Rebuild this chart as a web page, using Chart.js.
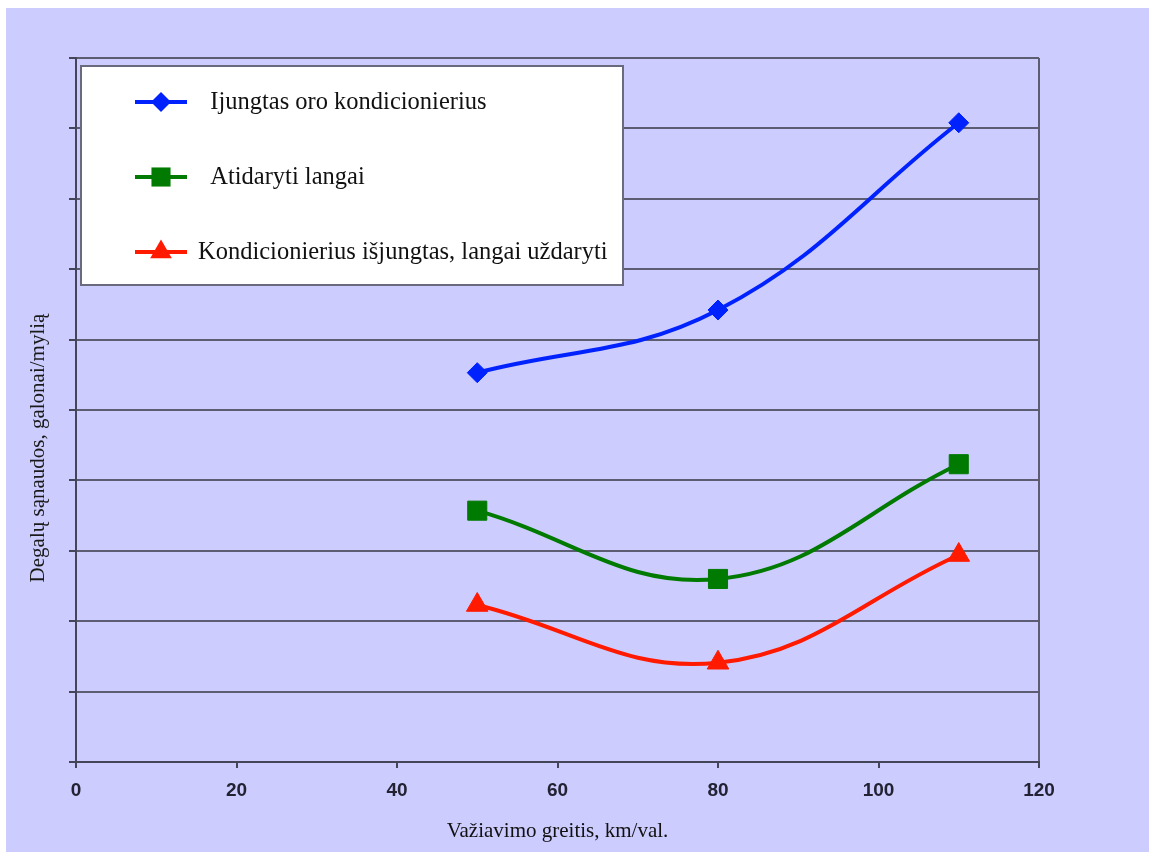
<!DOCTYPE html>
<html>
<head>
<meta charset="utf-8">
<script src="https://cdn.jsdelivr.net/npm/chart.js@4.4.1/dist/chart.umd.min.js"></script>
<style>
  html, body { margin: 0; padding: 0; background: #ffffff; }
  #wrap { position: absolute; left: 6px; top: 8px; width: 1143px; height: 844px; background: #ccccff; }
  canvas { display: block; }
</style>
</head>
<body>
<div id="wrap"><canvas id="c" width="1143" height="844"></canvas></div>
<script>
// Speeds (km/h) and fuel use for each driving mode
const speeds = [50, 80, 110];
const airConditioner = [5.53, 6.42, 9.08];
const openWindows = [3.57, 2.60, 4.23];
const allClosed = [2.23, 1.41, 2.94];

const seriesLabels = [
  '  Ijungtas oro kondicionierius',
  '  Atidaryti langai',
  'Kondicionierius išjungtas, langai uždaryti'
];
const xTicks = [0, 20, 40, 60, 80, 100, 120];
const xTitle = 'Važiavimo greitis, km/val.';
const yTitle = 'Degalų sąnaudos, galonai/mylią';

const GRID = '#5c5c72';
const AXIS = '#45455a';

function points(values) {
  return speeds.map((s, i) => ({ x: s, y: values[i] }));
}

function series(label, values, color, style, radius) {
  return {
    label: label,
    data: points(values),
    borderColor: color,
    backgroundColor: color,
    borderWidth: 4,
    pointStyle: style,
    pointRadius: radius,
    pointHoverRadius: radius,
    pointBorderWidth: 1,
    pointBorderColor: color,
    pointBackgroundColor: color,
    tension: 0.4,
    fill: false
  };
}

function marker(ctx, style, x, y, r, color) {
  ctx.save();
  ctx.fillStyle = color;
  ctx.beginPath();
  if (style === 'rectRot') {
    ctx.moveTo(x, y - r); ctx.lineTo(x + r, y); ctx.lineTo(x, y + r); ctx.lineTo(x - r, y);
  } else if (style === 'rect') {
    const h = r * Math.SQRT1_2;
    ctx.rect(x - h, y - h, 2 * h, 2 * h);
  } else if (style === 'triangle') {
    for (let k = 0; k < 3; k++) {
      const a = -Math.PI / 2 + k * 2 * Math.PI / 3;
      const px = x + r * Math.cos(a), py = y + r * Math.sin(a);
      if (k === 0) ctx.moveTo(px, py); else ctx.lineTo(px, py);
    }
  }
  ctx.closePath();
  ctx.fill();
  ctx.restore();
}

// Boxed legend inside the plot area plus the rotated y-axis caption
const overlay = {
  id: 'overlay',
  afterDraw(chart) {
    const ctx = chart.ctx;
    const area = chart.chartArea;

    // y-axis caption
    ctx.save();
    ctx.translate(32, 440);
    ctx.rotate(-Math.PI / 2);
    ctx.font = '21px "Liberation Serif"';
    ctx.fillStyle = '#1a1a1a';
    ctx.textAlign = 'center';
    ctx.textBaseline = 'middle';
    ctx.fillText(yTitle, 0, 0);
    ctx.restore();

    // legend box
    const bx = area.left + 5, by = area.top + 8, bw = 542, bh = 219;
    ctx.save();
    ctx.fillStyle = '#ffffff';
    ctx.fillRect(bx, by, bw, bh);
    ctx.strokeStyle = '#6a6a7e';
    ctx.lineWidth = 2;
    ctx.strokeRect(bx, by, bw, bh);

    ctx.font = '24.5px "Liberation Serif"';
    ctx.textAlign = 'left';
    ctx.textBaseline = 'middle';
    chart.data.datasets.forEach((ds, i) => {
      const y = by + 36 + i * 75;
      const x0 = bx + 54, x1 = bx + 106;
      ctx.strokeStyle = ds.borderColor;
      ctx.lineWidth = 4;
      ctx.beginPath();
      ctx.moveTo(x0, y);
      ctx.lineTo(x1, y);
      ctx.stroke();
      marker(ctx, ds.pointStyle, (x0 + x1) / 2, y, ds.pointRadius, ds.borderColor);
      ctx.fillStyle = '#111111';
      ctx.fillText(ds.label, x1 + 11, y + 1);
    });
    ctx.restore();
  }
};

new Chart(document.getElementById('c'), {
  type: 'line',
  data: {
    datasets: [
      series(seriesLabels[0], airConditioner, '#0022ff', 'rectRot', 10),
      series(seriesLabels[1], openWindows, '#007a00', 'rect', 13.5),
      series(seriesLabels[2], allClosed, '#ff1a00', 'triangle', 12.5)
    ]
  },
  options: {
    responsive: false,
    animation: false,
    layout: { padding: { left: 0, right: 110, top: 50, bottom: 0 } },
    plugins: {
      legend: { display: false },
      tooltip: { enabled: false }
    },
    scales: {
      x: {
        type: 'linear',
        min: 0,
        max: 120,
        afterBuildTicks(scale) { scale.ticks = xTicks.map(v => ({ value: v })); },
        afterFit(scale) { scale.height = 90; },
        ticks: {
          font: { family: '"Liberation Sans"', size: 19, weight: 'bold' },
          color: '#222233',
          padding: 11,
          maxRotation: 0
        },
        grid: {
          drawOnChartArea: true,
          color: ctx => (ctx.tick && ctx.tick.value === 120 ? GRID : 'rgba(0,0,0,0)'),
          tickColor: AXIS,
          tickLength: 6,
          lineWidth: 2
        },
        border: { color: AXIS, width: 2 },
        title: {
          display: true,
          text: xTitle,
          font: { family: '"Liberation Serif"', size: 21 },
          color: '#111111',
          padding: { top: 0, bottom: 8 }
        }
      },
      y: {
        min: 0,
        max: 10,
        afterFit(scale) { scale.width = 70; },
        ticks: { stepSize: 1, callback: () => '' },
        grid: {
          color: GRID,
          tickColor: AXIS,
          tickLength: 7,
          lineWidth: 2
        },
        border: { color: AXIS, width: 2 }
      }
    }
  },
  plugins: [overlay]
});
</script>
</body>
</html>
